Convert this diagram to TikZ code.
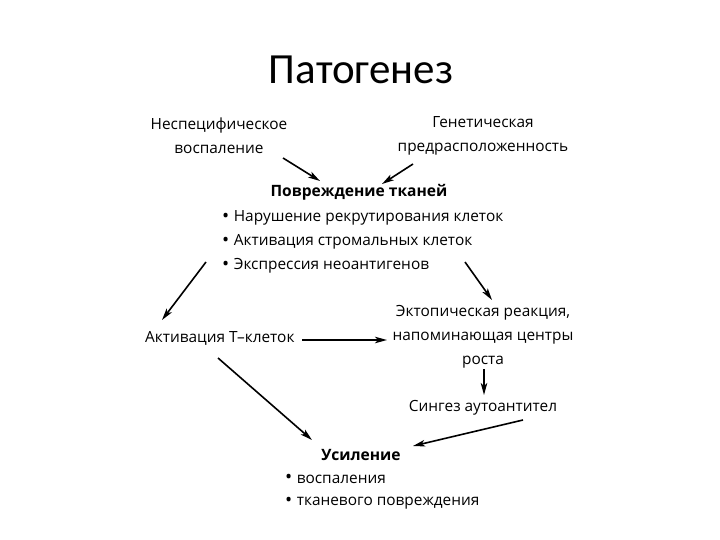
\documentclass[tikz,border=0pt]{standalone}
\usepackage{fontspec}
\setmainfont{Open Sans}
\newfontfamily\titlefont{Carlito}
\usetikzlibrary{arrows.meta,calc}
\newcommand{\bul}{{\fontsize{19}{24}\selectfont\raisebox{-0.5pt}{•}}\hspace{4.5pt}}
\tikzset{
  txt/.style={inner sep=0pt, font=\fontsize{15.4}{24}\selectfont, text=black},
  btxt/.style={txt, font=\fontsize{15.6}{24}\selectfont\bfseries},
  arr/.style={line width=1.6pt, -{Stealth[length=12pt,width=6.5pt,inset=3pt]}, black},
}
\begin{document}
\begin{tikzpicture}[x=1pt,y=-1pt]
\useasboundingbox[fill=white] (0,0) rectangle (720,540);
\node[inner sep=0pt, font=\fontsize{43}{48}\selectfont\titlefont] (title) at (361,70) {Патогенез};

\node[txt, align=center] (nsp) at (219,136) {Неспецифическое\\воспаление};
\node[txt, align=center] (gen) at (483,136) {Генетическая\\предрасположенность};

\node[btxt] (pov) at (359,192) {Повреждение тканей};
\node[txt, anchor=west] (b1) at (222,218) {\bul Нарушение рекрутирования клеток};
\node[txt, anchor=west] (b2) at (222,242) {\bul Активация стромальных клеток};
\node[txt, anchor=west] (b3) at (222,266) {\bul Экспрессия неоантигенов};

\node[txt, anchor=west] (tcell) at (145,338) {Активация Т–клеток};
\node[txt, align=center] (ect) at (483,337) {Эктопическая реакция,\\напоминающая центры\\роста};
\node[txt] (syn) at (483,408) {Сингез аутоантител};

\node[btxt] (usil) at (361,455) {Усиление};
\node[txt, anchor=west] (u1) at (285,479) {\bul воспаления};
\node[txt, anchor=west] (u2) at (285,503) {\bul тканевого повреждения};

\coordinate (a1s) at (283,158); \coordinate (a1e) at (320,181);
\coordinate (a2s) at (413,164); \coordinate (a2e) at (382,184);
\coordinate (a3s) at (206,262); \coordinate (a3e) at (162,320);
\coordinate (a4s) at (465,262); \coordinate (a4e) at (492,300);
\coordinate (a5s) at (302,340); \coordinate (a5e) at (387,340);
\coordinate (a6s) at (484,369); \coordinate (a6e) at (484,395);
\coordinate (a7s) at (523,420); \coordinate (a7e) at (413,446);
\coordinate (a8s) at (218,358); \coordinate (a8e) at (312,440);

\draw[arr] (a1s) -- (a1e);
\draw[arr] (a2s) -- (a2e);
\draw[arr] (a3s) -- (a3e);
\draw[arr] (a4s) -- (a4e);
\draw[arr] (a5s) -- (a5e);
\draw[arr] (a6s) -- (a6e);
\draw[arr] (a7s) -- (a7e);
\draw[arr] (a8s) -- (a8e);
\end{tikzpicture}
\end{document}
